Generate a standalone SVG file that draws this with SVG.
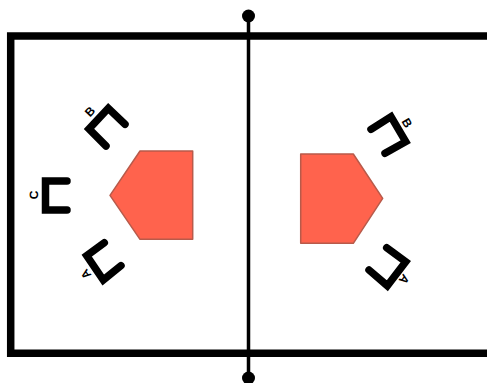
<svg xmlns="http://www.w3.org/2000/svg" width="487" height="383" viewBox="0 0 487 383">
<style>
.b{fill:none;stroke:#000;stroke-width:7.5;stroke-linecap:round;stroke-linejoin:miter}
.p{fill:#ff634d;stroke:#b85a4a;stroke-width:1.5;stroke-linejoin:round}
.t{font-family:"Liberation Sans",Arial,sans-serif;font-size:12px;font-weight:bold;fill:#000;text-anchor:middle;dominant-baseline:central;text-rendering:geometricPrecision}
</style>
<rect width="487" height="383" fill="#fff"/>
<g id="court"><path d="M490 36H10.7V353.2H490" fill="none" stroke="#000" stroke-width="7.5"/></g>
<g id="connectors">
<line x1="248.5" y1="16" x2="248.5" y2="378" stroke="#000" stroke-width="3.5"/>
<circle cx="248.5" cy="16" r="6.5" fill="#000"/>
<circle cx="248.5" cy="378" r="6.5" fill="#000"/>
</g>
<g id="pentagon-left"><polygon class="p" points="110,195.3 140,151 192.7,151 192.7,239.3 140,239.3"/></g>
<g id="pentagon-right"><polygon class="p" points="300.7,154 353.3,154 382.7,198.3 353.3,243.3 300.7,243.3"/></g>
<g id="bracket-left-c"><polyline class="b" points="67,181 45.5,181 45.5,210 67,210"/><text class="t" transform="translate(33.5,195) rotate(-90)">C</text></g>
<g id="bracket-left-b"><polyline class="b" points="125,124.3 108.3,108.3 89,129 106,146"/><text class="t" transform="translate(90,111.7) rotate(-47)">B</text></g>
<g id="bracket-left-a"><polyline class="b" points="104.3,242.7 86.7,255.7 103.3,280 121,265.7"/><text class="t" transform="translate(86,274) rotate(-128)">A</text></g>
<g id="bracket-right-b"><polyline class="b" points="371,129.3 391,116.7 405.7,141.7 385,153.3"/><text class="t" transform="translate(407,123) rotate(60)">B</text></g>
<g id="bracket-right-a"><polyline class="b" points="386.7,247.7 405.7,261.7 387.3,285.7 369,270"/><text class="t" transform="translate(404,279) rotate(127)">A</text></g>
</svg>
